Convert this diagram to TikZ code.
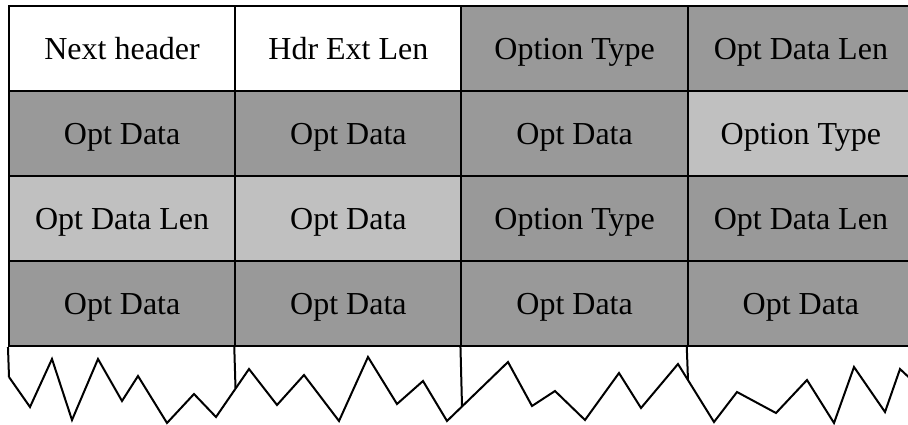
\documentclass[tikz,border=0pt]{standalone}
\usepackage{fontspec}
\setmainfont{Liberation Serif}
\definecolor{dk}{HTML}{999999}
\definecolor{lt}{HTML}{C0C0C0}
\begin{document}
\begin{tikzpicture}[x=1pt,y=-1pt,
  cell/.style={draw=black, line width=2pt, minimum width=226.25pt, minimum height=85pt,
    inner sep=0pt, text height=21pt, text depth=0pt,
    font=\fontsize{32}{38}\selectfont},
  wh/.style={cell, fill=white},
  dkc/.style={cell, fill=dk},
  ltc/.style={cell, fill=lt},
  edge/.style={line width=2pt, black}]
\useasboundingbox (0,0) rectangle (908,424);
\clip (0,0) rectangle (908,424);
% row 1
\node[wh]  (a1) at (122.1,48.5) {Next header};
\node[wh]  (a2) at (348.4,48.5) {Hdr Ext Len};
\node[dkc] (a3) at (574.6,48.5) {Option Type};
\node[dkc] (a4) at (800.9,48.5) {Opt Data Len};
% row 2
\node[dkc] (b1) at (122.1,133.5) {Opt Data};
\node[dkc] (b2) at (348.4,133.5) {Opt Data};
\node[dkc] (b3) at (574.6,133.5) {Opt Data};
\node[ltc] (b4) at (800.9,133.5) {Option Type};
% row 3
\node[ltc] (c1) at (122.1,218.5) {Opt Data Len};
\node[ltc] (c2) at (348.4,218.5) {Opt Data};
\node[dkc] (c3) at (574.6,218.5) {Option Type};
\node[dkc] (c4) at (800.9,218.5) {Opt Data Len};
% row 4
\node[dkc] (d1) at (122.1,303.5) {Opt Data};
\node[dkc] (d2) at (348.4,303.5) {Opt Data};
\node[dkc] (d3) at (574.6,303.5) {Opt Data};
\node[dkc] (d4) at (800.9,303.5) {Opt Data};
% torn bottom
\draw[edge] (d1.south west) -- (9,377);
\draw[edge] (d2.south west) -- (235.5,388);
\draw[edge] (d3.south west) -- (462,406);
\draw[edge] (d4.south west) -- (688,380);
\draw[edge] (9,377) -- (30,407) -- (52,359) -- (72,420) -- (98,359) -- (122,401)
  -- (138,376) -- (167,423) -- (194,394) -- (216,417) -- (249,369) -- (277,405)
  -- (304,375) -- (339,421) -- (368,357) -- (397,404) -- (423,381) -- (447,421)
  -- (508,362) -- (532,406) -- (555,391) -- (585,420) -- (619,373) -- (641,408)
  -- (678,364) -- (714,422) -- (737,392) -- (776,413) -- (807,380) -- (834,423)
  -- (854,367) -- (885,412) -- (900,369) -- (916,384);
\end{tikzpicture}
\end{document}
